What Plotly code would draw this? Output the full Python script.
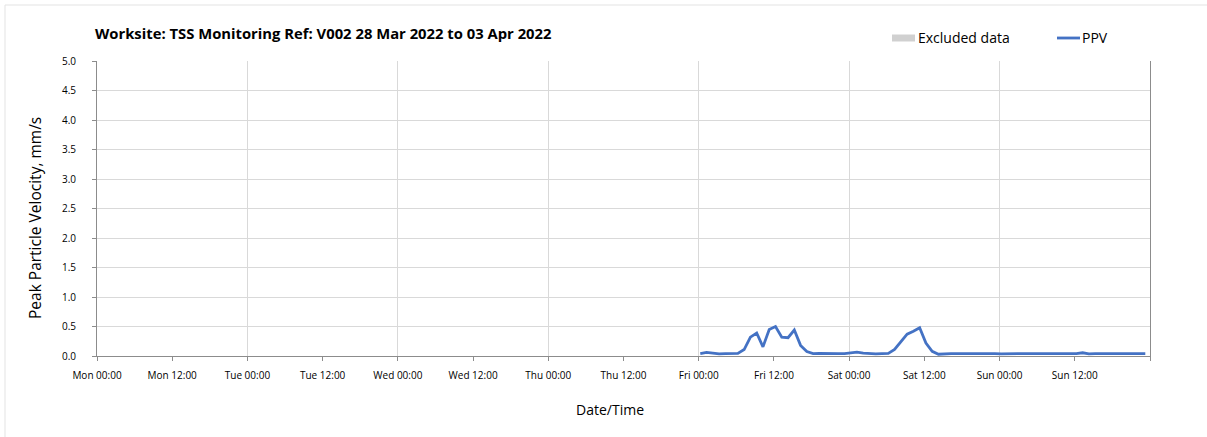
import plotly.graph_objects as go
import pandas as pd

# Hourly PPV readings (mm/s), Fri 00:15 through Sun 23:15
ppv_start = "2022-04-01 00:15"
ppv_values = [
    0.04, 0.06, 0.05, 0.035, 0.04, 0.045, 0.045, 0.11, 0.32, 0.39,
    0.155, 0.45, 0.50, 0.32, 0.31, 0.44, 0.18, 0.075, 0.04, 0.045,
    0.04, 0.04, 0.04, 0.04, 0.05, 0.065, 0.05, 0.04, 0.035, 0.04,
    0.045, 0.11, 0.24, 0.37, 0.42, 0.48, 0.22, 0.08, 0.03, 0.04,
    0.04, 0.04, 0.04, 0.04, 0.04, 0.05, 0.04, 0.04, 0.035, 0.04,
    0.04, 0.04, 0.04, 0.04, 0.04, 0.04, 0.04, 0.04, 0.04, 0.04,
    0.04, 0.055, 0.035, 0.04, 0.04, 0.04, 0.04, 0.04, 0.04, 0.04,
    0.04, 0.04,
]
ppv_times = pd.date_range(ppv_start, periods=len(ppv_values), freq="h")

# X axis ticks every 12 hours; the closing tick carries no label
tick_times = pd.date_range("2022-03-28 00:00", "2022-04-04 00:00", freq="12h")
tick_labels = [
    "Mon 00:00", "Mon 12:00", "Tue 00:00", "Tue 12:00", "Wed 00:00",
    "Wed 12:00", "Thu 00:00", "Thu 12:00", "Fri 00:00", "Fri 12:00",
    "Sat 00:00", "Sat 12:00", "Sun 00:00", "Sun 12:00", "",
]
y_ticks = [0.0, 0.5, 1.0, 1.5, 2.0, 2.5, 3.0, 3.5, 4.0, 4.5, 5.0]

title_text = "Worksite: TSS Monitoring Ref: V002 28 Mar 2022 to 03 Apr 2022"
legend_names = ["Excluded data", "PPV"]

W, H = 1207, 437
ML, MR, MT, MB = 97, 57, 61, 81
PW, PH = W - ML - MR, H - MT - MB


def px(xp):
    """Pixel column -> paper x."""
    return (xp - ML) / PW


def py(yp):
    """Pixel row -> paper y."""
    return (H - MB - yp) / PH


x_range = [tick_times[0], tick_times[-1]]
FONT = "'Open Sans', 'Noto Sans', sans-serif"
AXIS_GREY = "#8c8c8c"
GRID_GREY = "#d9d9d9"
PPV_BLUE = "#4472c4"
EXCL_GREY = "#d0d0d0"

fig = go.Figure()

fig.add_trace(go.Scatter(
    x=ppv_times, y=ppv_values, mode="lines", name=legend_names[1],
    line=dict(color=PPV_BLUE, width=2.8), showlegend=False,
))
# Day-boundary gridlines on an overlaid axis
fig.add_trace(go.Scatter(
    x=[tick_times[0]], y=[None], xaxis="x2", mode="lines",
    showlegend=False, hoverinfo="skip",
))

legend_y = py(38)
shapes = [
    # outer chart frame (top and left edges)
    dict(type="line", xref="paper", yref="paper",
         x0=px(5), x1=px(1210), y0=py(5), y1=py(5),
         line=dict(color="#e3e3e3", width=1)),
    dict(type="line", xref="paper", yref="paper",
         x0=px(5), x1=px(5), y0=py(5), y1=py(440),
         line=dict(color="#e3e3e3", width=1)),
    # legend keys
    dict(type="rect", xref="paper", yref="paper",
         x0=px(892), x1=px(915), y0=py(41.5), y1=py(34.5),
         fillcolor=EXCL_GREY, line=dict(width=0)),
    dict(type="line", xref="paper", yref="paper",
         x0=px(1057), x1=px(1080), y0=legend_y, y1=legend_y,
         line=dict(color=PPV_BLUE, width=2.8)),
]

annotations = [
    dict(text=legend_names[0], xref="paper", yref="paper", x=px(916),
         y=legend_y, xanchor="left", yanchor="middle", showarrow=False,
         font=dict(size=14, family=FONT, color="#000")),
    dict(text=legend_names[1], xref="paper", yref="paper", x=px(1080),
         y=legend_y, xanchor="left", yanchor="middle", showarrow=False,
         font=dict(size=14, family=FONT, color="#000")),
    dict(text="Date/Time", xref="paper", yref="paper", x=px(610),
         y=py(409), xanchor="center", yanchor="middle", showarrow=False,
         font=dict(size=14, family=FONT, color="#000")),
    dict(text="Peak Particle Velocity, mm/s", xref="paper", yref="paper",
         x=px(35), y=py(218), xanchor="center", yanchor="middle",
         textangle=-90, showarrow=False,
         font=dict(size=15.5, family=FONT, color="#000")),
]

fig.update_layout(
    width=W, height=H,
    margin=dict(l=ML, r=MR, t=MT, b=MB),
    paper_bgcolor="white", plot_bgcolor="white",
    font=dict(family=FONT, color="#000000"),
    title=dict(
        text=f"<b>{title_text}</b>",
        x=95 / W, xanchor="left", y=1 - 34 / H, yanchor="middle",
        font=dict(size=14.8, family=FONT),
    ),
    showlegend=False,
    xaxis=dict(
        type="date", range=x_range,
        tickmode="array", tickvals=tick_times, ticktext=tick_labels,
        ticks="outside", ticklen=4, tickcolor=AXIS_GREY,
        showgrid=False, showline=True, linecolor=AXIS_GREY, linewidth=1,
        tickfont=dict(size=10, family=FONT), zeroline=False,
        ticklabelstandoff=6,
    ),
    xaxis2=dict(
        type="date", range=x_range, overlaying="x", side="bottom",
        tickmode="linear", tick0=tick_times[0], dtick=24 * 3600 * 1000,
        showgrid=True, gridcolor=GRID_GREY, gridwidth=1,
        showticklabels=False, ticks="", showline=False, zeroline=False,
    ),
    yaxis=dict(
        range=[0, 5], tickmode="array", tickvals=y_ticks,
        ticktext=[f"{v:.1f}" for v in y_ticks],
        ticks="outside", ticklen=4, tickcolor=AXIS_GREY,
        showgrid=True, gridcolor=GRID_GREY, gridwidth=1,
        showline=True, linecolor=AXIS_GREY, linewidth=1, mirror=True,
        zeroline=False, tickfont=dict(size=10, family=FONT),
        ticklabelstandoff=14,
    ),
    shapes=shapes,
    annotations=annotations,
)

fig.write_html("out.html")
